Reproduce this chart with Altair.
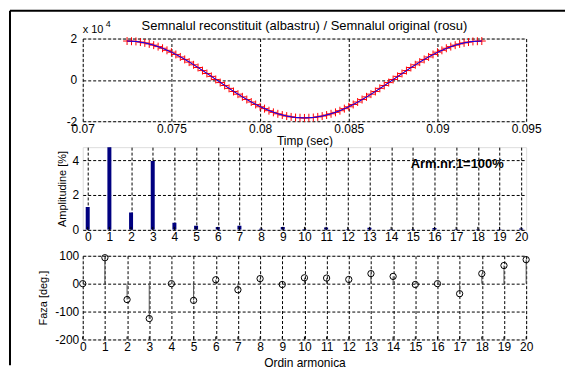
import altair as alt
import pandas as pd

FONT = "Liberation Sans"

# ---- Panel 1: time signal (units of 1e4) ----
t_start = 0.0725          # first sample time [s]
dt_red = 0.00025          # sample spacing of original signal [s]
dt_blue = 0.0005          # sample spacing of reconstructed signal [s]
red_vals = [1.88, 1.87, 1.86, 1.83, 1.79, 1.74, 1.68, 1.61, 1.53, 1.43, 1.34,
            1.23, 1.11, 0.99, 0.86, 0.73, 0.60, 0.45, 0.31, 0.17, 0.02,
            -0.13, -0.27, -0.41, -0.56, -0.69, -0.82, -0.95, -1.07, -1.19, -1.30,
            -1.39, -1.49, -1.57, -1.64, -1.70, -1.75, -1.79, -1.82, -1.83, -1.84,
            -1.83, -1.82, -1.79, -1.75, -1.70, -1.64, -1.57, -1.49, -1.39, -1.30,
            -1.19, -1.07, -0.95, -0.82, -0.69, -0.56, -0.41, -0.27, -0.13, 0.02,
            0.17, 0.31, 0.45, 0.60, 0.73, 0.86, 0.99, 1.11, 1.23, 1.34,
            1.43, 1.53, 1.61, 1.68, 1.74, 1.79, 1.83, 1.86, 1.87, 1.88]
blue_vals = [1.88, 1.86, 1.79, 1.68, 1.53, 1.34, 1.12, 0.87, 0.60, 0.32, 0.03,
             -0.26, -0.55, -0.82, -1.07, -1.29, -1.48, -1.64, -1.75, -1.82, -1.84,
             -1.82, -1.75, -1.64, -1.49, -1.30, -1.08, -0.83, -0.56, -0.28, 0.01,
             0.30, 0.59, 0.86, 1.11, 1.33, 1.52, 1.68, 1.79, 1.86, 1.88]
time_ticks = [0.07, 0.075, 0.08, 0.085, 0.09, 0.095]
sig_ticks = [-2, 0, 2]

# ---- Panels 2 & 3: harmonics ----
harmonics = list(range(21))
amplitude = [1.31, 100, 0.99, 3.95, 0.41, 0.24, 0.17, 0.23, 0.07, 0.17, 0.05,
             0.13, 0.04, 0.12, 0.04, 0.03, 0.10, 0.03, 0.04, 0.03, 0.08]
phase = [0, 93, -57, -125, 0, -60, 14, -22, 18, -3, 21,
         20, 15, 36, 26, -3, 0, -36, 36, 65, 86]
amp_ticks = [0, 2, 4]
phase_ticks = [-200, -100, 0, 100]

W = 445
H1, H2, H3 = 83, 83, 84

red_df = pd.DataFrame({"t": [t_start + i * dt_red for i in range(len(red_vals))], "v": red_vals})
blue_df = pd.DataFrame({"t": [t_start + i * dt_blue for i in range(len(blue_vals))], "v": blue_vals})
harm_df = pd.DataFrame({"n": harmonics, "amp": amplitude, "ph": phase, "zero": [0] * len(harmonics)})
one = pd.DataFrame({"a": [0]})

grid = dict(grid=True, gridColor="#000000", gridDash=[3, 2], gridOpacity=1, gridWidth=1,
            domain=False, ticks=False, labelFont=FONT, labelFontSize=12, labelColor="#000000",
            titleFont=FONT, titleFontWeight="normal", titleColor="#000000", labelOverlap=False,
            labelBound=False)

xs1 = alt.Scale(domain=[0.07, 0.095], nice=False, zero=False)
ys1 = alt.Scale(domain=[-2, 2], nice=False)
ax_x1 = alt.Axis(values=time_ticks, format=".3~f", labelFlush=False, labelPadding=2,
                 title="Timp (sec)", titleFontSize=12, titleY=23, titleBaseline="alphabetic", **grid)
ax_y1 = alt.Axis(values=sig_ticks, labelExpr="'' + datum.value", labelPadding=6, title=None, **grid)
x1 = alt.X("t:Q", scale=xs1, axis=ax_x1)
y1 = alt.Y("v:Q", scale=ys1, axis=ax_y1)

red_line = alt.Chart(red_df).mark_line(color="#ff2020", strokeWidth=1).encode(x=x1, y=y1)
red_pts = alt.Chart(red_df).mark_point(shape="M-1,0L1,0M0,-1L0,1", size=64, color="#ff0000",
                                       strokeWidth=1, filled=False, opacity=1).encode(x=x1, y=y1)
blue_line = alt.Chart(blue_df).mark_line(color="#0000ff", strokeWidth=1).encode(x=x1, y=y1)

frame_top = alt.Chart(one).mark_rule(color="#000000", strokeWidth=2).encode(
    x=alt.value(-73), x2=alt.value(484), y=alt.value(-28))
frame_left = alt.Chart(one).mark_rule(color="#000000", strokeWidth=2).encode(
    x=alt.value(-73), y=alt.value(-28), y2=alt.value(328))

title_txt = alt.Chart(pd.DataFrame({"s": ["Semnalul reconstituit (albastru) / Semnalul original (rosu)"]})).mark_text(
    font=FONT, fontSize=13, color="#000000", align="center", baseline="alphabetic").encode(
    text="s:N", x=alt.value(W / 2), y=alt.value(-9))
exp_txt = alt.Chart(pd.DataFrame({"s": ["x 10"]})).mark_text(
    font=FONT, fontSize=11, color="#000000", align="left", baseline="alphabetic").encode(
    text="s:N", x=alt.value(0), y=alt.value(-6))
exp_sup = alt.Chart(pd.DataFrame({"s": ["4"]})).mark_text(
    font=FONT, fontSize=9, color="#000000", align="left", baseline="alphabetic").encode(
    text="s:N", x=alt.value(23), y=alt.value(-12))

p1 = alt.layer(red_line, red_pts, blue_line, frame_top, frame_left, title_txt, exp_txt, exp_sup).properties(
    width=W, height=H1)

# ---- Panel 2 ----
xh = alt.Scale(domain=[0, 20], nice=False)
ya = alt.Scale(domain=[0, 4.74], nice=False)
ax_xh = alt.Axis(values=harmonics, labelFlush=False, labelPadding=2, title=None, **grid)
ax_ya = alt.Axis(values=amp_ticks, labelPadding=4, title="Amplitudine [%]", titleFontSize=11,
                 titleX=-17, titleY=H2 / 2, titleBaseline="alphabetic", titleAlign="center", **grid)
x2 = alt.X("n:Q", scale=xh, axis=ax_xh)
y2 = alt.Y("amp:Q", scale=ya, axis=ax_ya)
bars = alt.Chart(harm_df).mark_bar(size=4, color="#000080", clip=True).encode(x=x2, y=y2)
ticks2 = alt.Chart(harm_df).mark_rule(color="#000000", strokeWidth=1).encode(
    x=x2, y=alt.value(H2), y2=alt.value(H2 - 3))
note_df = pd.DataFrame({"s": ["Arm.nr.1=100%"], "n": [14.9], "amp": [3.8]})
note = alt.Chart(note_df).mark_text(
    font=FONT, fontSize=13, fontWeight="bold", color="#000000", align="left", baseline="middle").encode(
    text="s:N", x=x2, y=y2)
p2 = alt.layer(bars, ticks2, note).properties(width=W, height=H2)

# ---- Panel 3 ----
yp = alt.Scale(domain=[-200, 100], nice=False)
ax_x3 = alt.Axis(values=harmonics, labelFlush=False, labelPadding=2, title="Ordin armonica",
                 titleFontSize=12, titleY=27, titleBaseline="alphabetic", **grid)
ax_yp = alt.Axis(values=phase_ticks, labelExpr="'' + datum.value", labelPadding=4,
                 title="Faza [deg.]", titleFontSize=11, titleX=-36, titleY=H3 / 2,
                 titleBaseline="alphabetic", titleAlign="center", **grid)
x3 = alt.X("n:Q", scale=xh, axis=ax_x3)
y3 = alt.Y("ph:Q", scale=yp, axis=ax_yp)
stems = alt.Chart(harm_df).mark_rule(color="#555555", strokeWidth=1).encode(
    x=x3, y=alt.Y("zero:Q", scale=yp, axis=ax_yp), y2="ph:Q")
ticks3 = alt.Chart(harm_df).mark_rule(color="#000000", strokeWidth=1).encode(
    x=x3, y=alt.value(H3), y2=alt.value(H3 - 3))
circles = alt.Chart(harm_df).mark_point(shape="circle", size=40, color="#000000", filled=False,
                                        strokeWidth=1, opacity=1).encode(x=x3, y=y3)
p3 = alt.layer(stems, ticks3, circles).properties(width=W, height=H3)

chart = alt.vconcat(p1, p2, p3, spacing=26, bounds="flush").properties(
    padding=0, background="white"
).configure_view(stroke="#333333", strokeWidth=1, fill="white").configure(font=FONT)

chart.save("out.html", embed_options={"renderer": "svg", "actions": False})
